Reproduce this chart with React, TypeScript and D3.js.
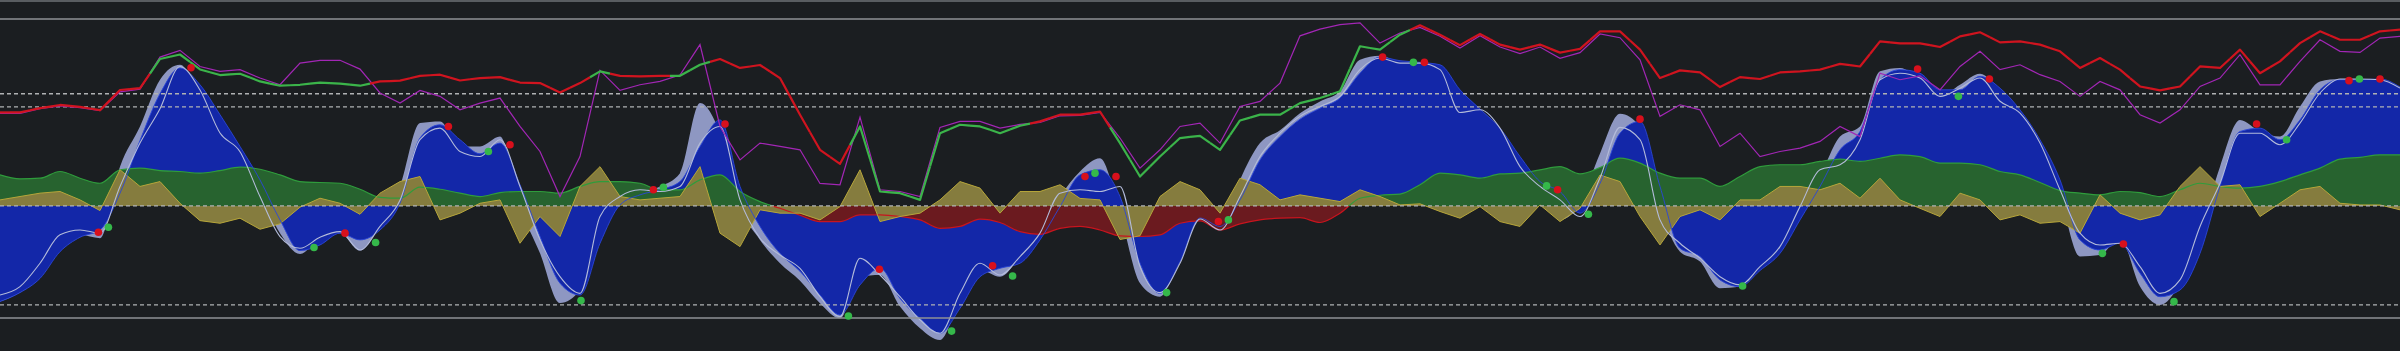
import React from 'react';
import * as d3 from 'd3';

const W = 2400;
const H = 351;

// Stoch RSI (thick line, red/green) and its signal (purple)
const stochK = [
  50, 50, 52.3, 54, 53, 51.2, 62, 63, 78.6, 81, 73, 70, 70.7, 66.6, 64.3, 64.8, 66, 65.4, 64.3, 66.6, 67,
  69.6, 70.2, 67.1, 68.4, 68.9, 66, 65.7, 60.7, 65.7, 72, 69.6, 69.3, 69.6, 69.6, 75.5, 78.6, 73.8, 75.4, 68.4, 48.8,
  30, 22.5, 42.5, 7.7, 6.8, 3.2, 38.9, 43.4, 42.5, 38.9, 42.9, 45.2, 48.8, 48.8, 50.5, 33.6, 15.7, 26.4, 36.3, 37.5,
  30, 45.7, 48.8, 48.8, 55, 57.7, 61.3, 85.4, 83.6, 91.6, 96.6, 91.6, 86, 92, 86.3, 83.6, 86.3, 82, 84, 93.4,
  93.4, 83.6, 68.4, 72.5, 71.4, 63.6, 68.9, 67.9, 71.4, 72, 72.9, 76, 74.6, 88, 87, 87, 85, 90.7, 92.9, 87.5,
  88, 86.3, 82.7, 73.8, 79.1, 72.9, 63.9, 61.8, 63.9, 74.6, 73.8, 83.6, 71, 77.3, 87.1, 93.4, 88.9, 88.9, 93.4, 94.3,
];
const stochD = [
  49.5, 49.5, 52, 53.5, 52.5, 51, 61, 62.5, 79.6, 83.2, 74.6, 72, 72.9, 68.4, 64.8, 76.4, 77.9, 77.9, 73.2, 60.4, 55,
  61.8, 58.6, 51.4, 55, 57.7, 42.5, 29.1, 5, 26.4, 72.5, 61.8, 64.8, 66.6, 70, 86.3, 42.5, 24.6, 33.6, 31.8, 30,
  12, 11.3, 47.5, 8.6, 7.7, 5, 42, 45.2, 45.2, 41.6, 43.6, 44.6, 48.2, 48.4, 50, 36.3, 20.2, 30, 42.5, 44.3,
  33.6, 53.2, 55.9, 65.7, 91, 94.6, 97, 97.9, 87.1, 92.5, 95.5, 90.8, 84.5, 91, 85, 81.5, 85, 79, 82, 92,
  90, 78.2, 47.9, 54.1, 51.4, 31.8, 38.9, 26.4, 29.1, 30.9, 34.5, 42.5, 37.1, 71, 67.5, 69.6, 62.1, 74.6, 82.7, 72.9,
  75.5, 70.2, 66.6, 58.6, 66.6, 62.1, 48.8, 44.3, 51.4, 63.9, 68.4, 80.9, 64.8, 64.8, 77.3, 88.9, 82.7, 82.1, 89.8, 90.7,
];

// Wave trend: fast (grey), main (blue), slow signal (light line)
const waveFast = [
  -51.2, -46.4, -37.9, -23.6, -15.5, -17.3, 21, 42.5, 67.5, 75.5, 59.5, 43, 26, 7, -14.6, -25.7, -17, -14.6, -23.9, -10.2, 10.4,
  44.3, 45.2, 31.8, 31.8, 37.1, -0.4, -25.4, -52, -45, -11, 3.2, 6.8, 10.4, 17.5, 55, 38.9, -0.4, -18.2, -30.7, -40,
  -52.1, -60.2, -38, -37, -53.9, -65.5, -71.8, -50.4, -34.3, -37.9, -27.1, -12.9, 5, 18.4, 25.5, -3.9, -41.4, -48.6, -25.4, -5,
  -12.9, 13.9, 33.6, 40.5, 49.6, 55.9, 61.3, 78.2, 80.4, 77, 76.4, 69, 56.8, 47.9, 37.1, 19.3, 10.4, -7.5, 1.4, 28,
  49.3, 42.5, -0.4, -24.5, -29.8, -44.1, -43.2, -32.5, -20, -0.4, 15.7, 37.1, 42.5, 72, 73.8, 67.5, 58.6, 64.8, 70.7, 61,
  47, 30, 5, -27.1, -26.3, -17.3, -43.2, -53, -41.4, -14.6, 21, 46, 39.8, 37.1, 53.2, 66.6, 67.9, 67.9, 67.5, 60.4,
];
const waveMain = [
  -51.2, -46.4, -38.8, -24.5, -16.8, -12.9, 6.8, 35, 60, 73.8, 64.8, 48.8, 31.8, 13.9, -7.5, -23.9, -20.9, -14.6, -18.2, -12.9, 1.4,
  36.3, 43.4, 35.4, 27.9, 33.6, 11.3, -16.4, -41.4, -47.7, -20, 0.5, 5.9, 8.6, 13, 31.8, 46, 10.4, -11, -25.4, -35,
  -47.7, -58.4, -42.3, -33.4, -49.5, -60.2, -68.2, -54.8, -37.9, -33.4, -30.7, -18.2, -0.4, 16.6, 19.3, 5, -30.7, -46.8, -29.8, -6.5,
  -11, 3.2, 24.6, 37.1, 46.4, 52.3, 57.7, 71, 79.6, 77.7, 76.8, 75.5, 62.1, 51.8, 41.6, 26.4, 13, 7.7, -3.9, 12,
  38.9, 45.2, 10.4, -22.7, -27.1, -39.6, -43.2, -34.6, -25.4, -7.5, 10.4, 30, 39.8, 67.5, 72.9, 71, 62.1, 62.1, 69.3, 63,
  51.4, 35.4, 13.9, -18.2, -23.6, -20, -36, -48.6, -45, -25.4, 10.4, 39.8, 41.6, 35.4, 46, 62.1, 67.5, 67.5, 67.9, 63.6,
];
const waveSignal = [
  -47.7, -43.2, -30.7, -15.5, -12.9, -14.6, 10.4, 33.6, 52, 74.6, 62, 39, 29, 5, -16.4, -22.7, -16.8, -13.8, -23.6, -11, 3,
  35.4, 41.6, 29.1, 26.4, 35.4, 10.4, -18.2, -37.9, -46.8, -5.7, 5, 8.6, 7.7, 10.4, 33.6, 42.5, 3.2, -17.3, -26.3, -33.5,
  -48.6, -59.3, -28, -37, -48.6, -61, -68.2, -46.8, -30.7, -37, -27.1, -14.6, 6.8, 8.6, 7.7, 10.4, -32.5, -46.4, -30.7, -7,
  -12.9, 5, 26.4, 38.9, 47.9, 53.2, 58.6, 72.9, 79.1, 76.4, 76.4, 72.9, 50, 51.4, 41.6, 21, 10.4, 3.2, -5.7, 15,
  42, 35.4, -7.5, -20, -28, -37.9, -42.3, -32.5, -21.8, -0.4, 19.3, 22, 35.4, 67.5, 71, 68.4, 58.6, 63, 68.4, 56,
  49.6, 33.6, 8.6, -14.6, -20.9, -20, -32.5, -46.8, -39.6, -11, 12.1, 38.9, 38.9, 32.7, 44.3, 60.4, 67.9, 67.9, 67.5, 63,
];

// Money flow (green above zero, red below) and momentum (yellow)
const moneyFlow = [
  16.6, 14.5, 14.8, 18.4, 14.8, 12.1, 19.3, 20.2, 18.9, 18.4, 17.5, 18.9, 20.7, 19.6, 16.6, 13, 12.5, 12.1, 8.9, 4.6, 4.1,
  10, 8.9, 6.8, 5, 7.1, 7.7, 7.7, 6.8, 10.4, 13, 13, 12.1, 8.6, 8.6, 13.9, 16.6, 7.7, 2.3, -1.3, -5,
  -8.4, -8.4, -4.8, -4.8, -5.7, -7.5, -12, -11, -7.1, -8.9, -13.8, -15.2, -12, -11, -12.9, -16.1, -16.4, -15.5, -9.3, -8,
  -12.9, -9.6, -7.5, -6.6, -6.3, -8.9, -3.9, 4.1, 5.7, 6.3, 11.3, 17.5, 16.6, 14.8, 17.1, 17.5, 19.3, 21, 17.1, 20.5,
  25.5, 22.9, 17.5, 14.8, 14.8, 10.4, 15.7, 21, 22, 22, 23.8, 25, 23.8, 25.5, 27.3, 26.4, 22.9, 22.9, 22, 18.4,
  16.6, 12.5, 8.2, 6.8, 5.9, 7.7, 7.1, 5, 8.6, 12.1, 10.4, 9.5, 10.4, 13, 16.6, 20.2, 25, 26, 27.3, 27.3,
];
const momentum = [
  3.2, 5, 6.8, 7.7, 3.2, -2.5, 19.3, 10.4, 13, 1.4, -7.9, -9.3, -6.6, -12.5, -9.6, -0.7, 4.1, 1.4, -4.5, 6.8, 13,
  15.7, -7.5, -3.9, 1.4, 3.2, -20, -5.7, -16.4, 10.4, 21, 5, 3.2, 4.1, 5, 21, -14.6, -21.8, -2.1, -3.9, -3.9,
  -7.5, -0.4, 19.3, -8.4, -5.7, -3.9, 3.2, 13, 9.5, -3.9, 7.7, 7.7, 11.3, 4, 3.2, -18, -16, 5, 13, 8.6,
  -3.9, 14.8, 11.3, 3.2, 5.9, 4.1, 2.3, 8.6, 5, 0.5, 1.1, -3, -6.6, -0.4, -8.4, -11, 0.5, -8.4, -1.3, 16.5,
  13, -5.7, -20.9, -5.7, -2.1, -7.5, 3.2, 3.2, 10.4, 10.4, 8.6, 12.1, 4.1, 14.8, 3.2, -1.3, -5.7, 6.8, 3.2, -7.5,
  -4.8, -9.3, -8.4, -14.6, 5.9, -3.9, -7.5, -4.8, 10.4, 21, 10.4, 11.3, -5.7, 1.4, 8.6, 10.4, 1.4, 0.5, 0.5, -2.1,
];

// Cross signals: [bar, value]
const sellDots: [number, number][] = [
  [4.92, -14.1], [9.55, 73.9], [17.25, -14.6], [22.42, 42.5], [25.5, 32.7], [32.67, 8.6], [36.25, 43.8],
  [43.97, -33.9], [49.63, -32], [54.25, 15.7], [55.8, 15.7], [60.92, -8.4], [69.13, 79.6], [71.22, 76.8],
  [77.88, 8.6], [82, 46.4], [95.88, 73.2], [99.47, 67.9], [106.17, -20.4], [112.83, 43.8], [117.45, 67], [119, 67.9],
];
const buyDots: [number, number][] = [
  [5.42, -11.4], [15.7, -22.3], [18.78, -19.6], [24.42, 29.1], [29.05, -50.7], [33.17, 10], [42.42, -58.9],
  [47.58, -67], [50.63, -37.5], [54.75, 17.5], [58.33, -46.4], [61.42, -7.5], [70.67, 76.8], [77.33, 10.7],
  [79.42, -4.5], [87.13, -42.9], [97.92, 58.6], [105.12, -25.4], [108.7, -51.25], [114.33, 35.4], [117.97, 67.9],
];

const solidLevels = [100, -60];
const dottedLevels = [60, 53, 0, -53];

export default function App() {
  const n = stochK.length;
  const x = d3.scaleLinear().domain([0, n - 1]).range([0, W]);
  const y = d3.scaleLinear().domain([-60, 100]).range([318, 19]);
  const y0 = y(0);

  const areaOf = (vals: number[], curve: d3.CurveFactory) =>
    d3.area<number>().x((_, i) => x(i)).y0(y0).y1((v) => y(v)).curve(curve)(vals) || '';
  const lineOf = (vals: number[], curve: d3.CurveFactory) =>
    d3.line<number>().x((_, i) => x(i)).y((v) => y(v)).curve(curve)(vals) || '';

  const smooth = d3.curveMonotoneX;
  const lin = d3.curveLinear;

  // per-point coloured stoch segments
  const kSegs = stochK.map((v, i) => {
    const pts: [number, number][] = [];
    if (i > 0) pts.push([(x(i - 1) + x(i)) / 2, (y(stochK[i - 1]) + y(v)) / 2]);
    pts.push([x(i), y(v)]);
    if (i < n - 1) pts.push([(x(i) + x(i + 1)) / 2, (y(stochK[i + 1]) + y(v)) / 2]);
    const up = stochD[i] >= v;
    return { d: d3.line()(pts) || '', color: up ? '#3bb44a' : '#d0141f' };
  });

  return (
    <svg
      width={W}
      height={H}
      style={{ position: 'absolute', left: 0, top: 0, display: 'block' }}
    >
      <defs>
        <clipPath id="above">
          <rect x={0} y={0} width={W} height={y0} />
        </clipPath>
        <clipPath id="below">
          <rect x={0} y={y0} width={W} height={H - y0} />
        </clipPath>
      </defs>
      <rect x={0} y={0} width={W} height={H} fill="#1b1e21" />
      <line x1={0} x2={W} y1={1} y2={1} stroke="#6f7377" strokeWidth={1.5} />

      <path d={areaOf(waveFast, smooth)} fill="#8e97c2" />
      <path d={areaOf(waveMain, smooth)} fill="#1327a8" />

      <path d={areaOf(moneyFlow, smooth)} fill="#27632f" clipPath="url(#above)" />
      <path d={areaOf(moneyFlow, smooth)} fill="#6b1a1f" clipPath="url(#below)" />
      <path d={areaOf(momentum, lin)} fill="#857c3e" />
      <path d={lineOf(moneyFlow, smooth)} fill="none" stroke="#2f9c3c" strokeWidth={1.2} clipPath="url(#above)" />
      <path d={lineOf(moneyFlow, smooth)} fill="none" stroke="#c8141e" strokeWidth={1.2} clipPath="url(#below)" />
      <path d={lineOf(momentum, lin)} fill="none" stroke="#b7a63a" strokeWidth={1} />

      <path d={lineOf(waveMain, smooth)} fill="none" stroke="#2a46d8" strokeWidth={1} opacity={0.9} />
      <path d={lineOf(waveSignal, smooth)} fill="none" stroke="#b3bbda" strokeWidth={1.1} />

      {solidLevels.map((v) => (
        <line key={'s' + v} x1={0} x2={W} y1={y(v)} y2={y(v)} stroke="#8f9296" strokeWidth={1.5} />
      ))}
      {dottedLevels.map((v) => (
        <line
          key={'d' + v}
          x1={0}
          x2={W}
          y1={y(v)}
          y2={y(v)}
          stroke="#b0b2b4"
          strokeWidth={1.3}
          strokeDasharray="4 3"
        />
      ))}

      <path d={lineOf(stochD, lin)} fill="none" stroke="#a226b5" strokeWidth={1.2} />
      {kSegs.map((s, i) => (
        <path
          key={'k' + i}
          d={s.d}
          fill="none"
          stroke={s.color}
          strokeWidth={2.2}
          strokeLinejoin="round"
          strokeLinecap="butt"
        />
      ))}

      {sellDots.map(([b, v], i) => (
        <circle key={'r' + i} cx={x(b)} cy={y(v)} r={3.8} fill="#d8101c" />
      ))}
      {buyDots.map(([b, v], i) => (
        <circle key={'g' + i} cx={x(b)} cy={y(v)} r={3.8} fill="#35b84a" />
      ))}
    </svg>
  );
}
